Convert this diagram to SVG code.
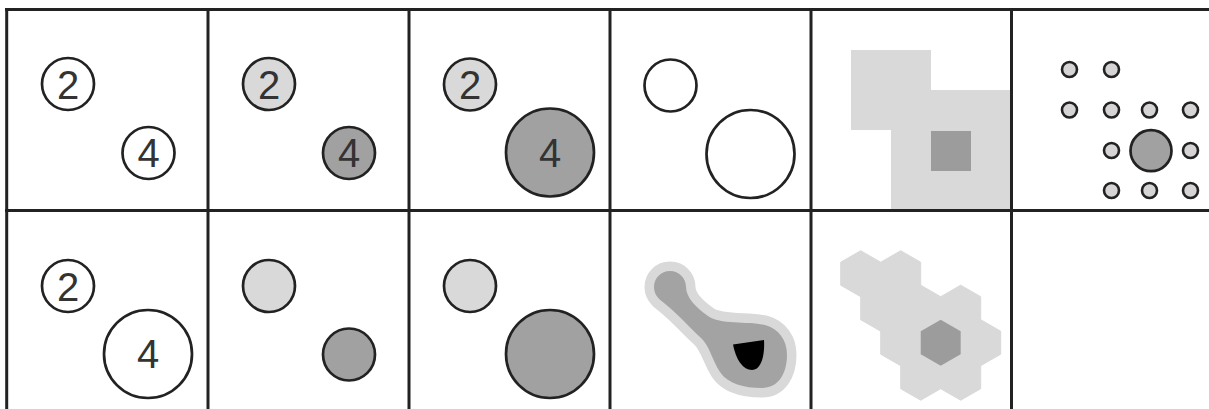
<svg xmlns="http://www.w3.org/2000/svg" width="1209" height="409" viewBox="0 0 1209 409">
<style>
.c{stroke:#222;stroke-width:2.7}
.w{fill:#fff}
.l{fill:#d9d9d9}
.d{fill:#a1a1a1}
.t{font-family:"Liberation Sans",Arial,sans-serif;font-size:40px;fill:#333;text-anchor:middle}
.g{stroke:#222;stroke-width:3;fill:none}
.dot{fill:#d6d4d4;stroke:#222;stroke-width:2.6}
.hx{fill:#d9d9d9;stroke:#d9d9d9;stroke-width:1}
</style>
<defs>
<polygon id="hex" points="0,-23 20,-11.5 20,11.5 0,23 -20,11.5 -20,-11.5"/>
<path id="blob" d="M670,271 C679,271 686,278 686,287 C686,298 697,308 708,316 C720,325 748,321 765,325 C779,329 787,340 787,355 C787,374 778,388 762,388 C744,388 728,384 720,372 C712,360 710,346 700,337 C690,328 678,314 664,303 C657,298 654,293 654,287 C654,278 661,271 670,271 Z"/>
</defs>
<rect width="1209" height="409" fill="#fff"/>

<g id="cell-r1c1">
<circle class="c w" cx="68" cy="84" r="26"/><text class="t" x="68" y="98.5">2</text>
<circle class="c w" cx="148.5" cy="153" r="26"/><text class="t" x="148.5" y="167">4</text>
</g>
<g id="cell-r1c2">
<circle class="c l" cx="269" cy="84" r="26"/><text class="t" x="269" y="98.5">2</text>
<circle class="c d" cx="349" cy="153" r="26"/><text class="t" x="349" y="167">4</text>
</g>
<g id="cell-r1c3">
<circle class="c l" cx="470" cy="84.5" r="26"/><text class="t" x="470" y="99">2</text>
<circle class="c d" cx="550" cy="152.5" r="44"/><text class="t" x="550" y="167">4</text>
</g>
<g id="cell-r1c4">
<circle class="c w" cx="670.5" cy="85.5" r="26"/>
<circle class="c w" cx="750.5" cy="154" r="44"/>
</g>
<g id="cell-r1c5">
<path d="M851,50 H931 V90 H1011 V210 H891 V130 H851 Z" fill="#d9d9da"/>
<rect x="931" y="131" width="40" height="40" fill="#9c9c9c"/>
</g>
<g id="cell-r1c6">
<circle class="dot" cx="1069.5" cy="69.5" r="7.5"/>
<circle class="dot" cx="1111.5" cy="69.5" r="7.5"/>
<circle class="dot" cx="1069.5" cy="110" r="7.5"/>
<circle class="dot" cx="1111.5" cy="110" r="7.5"/>
<circle class="dot" cx="1149.5" cy="110" r="7.5"/>
<circle class="dot" cx="1190.5" cy="110" r="7.5"/>
<circle class="dot" cx="1111.5" cy="150.5" r="7.5"/>
<circle class="c d" cx="1151" cy="150.7" r="20.5"/>
<circle class="dot" cx="1190.5" cy="150.5" r="7.5"/>
<circle class="dot" cx="1111.5" cy="190.5" r="7.5"/>
<circle class="dot" cx="1149.5" cy="190.5" r="7.5"/>
<circle class="dot" cx="1190.5" cy="190.5" r="7.5"/>
</g>

<g id="cell-r2c1">
<circle class="c w" cx="68" cy="286" r="26"/><text class="t" x="68" y="300.5">2</text>
<circle class="c w" cx="148" cy="354" r="44"/><text class="t" x="148" y="368">4</text>
</g>
<g id="cell-r2c2">
<circle class="c l" cx="269" cy="286" r="26"/>
<circle class="c d" cx="349" cy="354.5" r="26"/>
</g>
<g id="cell-r2c3">
<circle class="c l" cx="470" cy="286" r="26"/>
<circle class="c d" cx="550" cy="354" r="44"/>
</g>
<g id="cell-r2c4">
<use href="#blob" fill="#d9d9d9" stroke="#d9d9d9" stroke-width="19" stroke-linejoin="round"/>
<use href="#blob" fill="#a3a3a3"/>
<path d="M733,344.5 L764,340 C765,356 761,370 752,370 C743,370 736,360 733,344.5 Z" fill="#000"/>
</g>
<g id="cell-r2c5">
<use class="hx" href="#hex" x="860.7" y="273.7"/>
<use class="hx" href="#hex" x="900.7" y="273.7"/>
<use class="hx" href="#hex" x="880.7" y="308.2"/>
<use class="hx" href="#hex" x="920.7" y="308.2"/>
<use class="hx" href="#hex" x="960.7" y="308.2"/>
<use class="hx" href="#hex" x="900.7" y="342.7"/>
<use class="hx" href="#hex" x="980.7" y="342.7"/>
<use class="hx" href="#hex" x="920.7" y="377.2"/>
<use class="hx" href="#hex" x="960.7" y="377.2"/>
<use href="#hex" x="940.7" y="342.7" fill="#9c9c9c"/>
</g>

<g id="grid" class="g">
<line x1="5" y1="9.5" x2="1209" y2="9.5"/>
<line x1="5" y1="210.5" x2="1209" y2="210.5"/>
<line x1="6.7" y1="8" x2="6.7" y2="409"/>
<line x1="208" y1="8" x2="208" y2="409"/>
<line x1="409" y1="8" x2="409" y2="409"/>
<line x1="610" y1="8" x2="610" y2="409"/>
<line x1="811" y1="8" x2="811" y2="409"/>
<line x1="1011.5" y1="8" x2="1011.5" y2="409"/>
</g>
</svg>
